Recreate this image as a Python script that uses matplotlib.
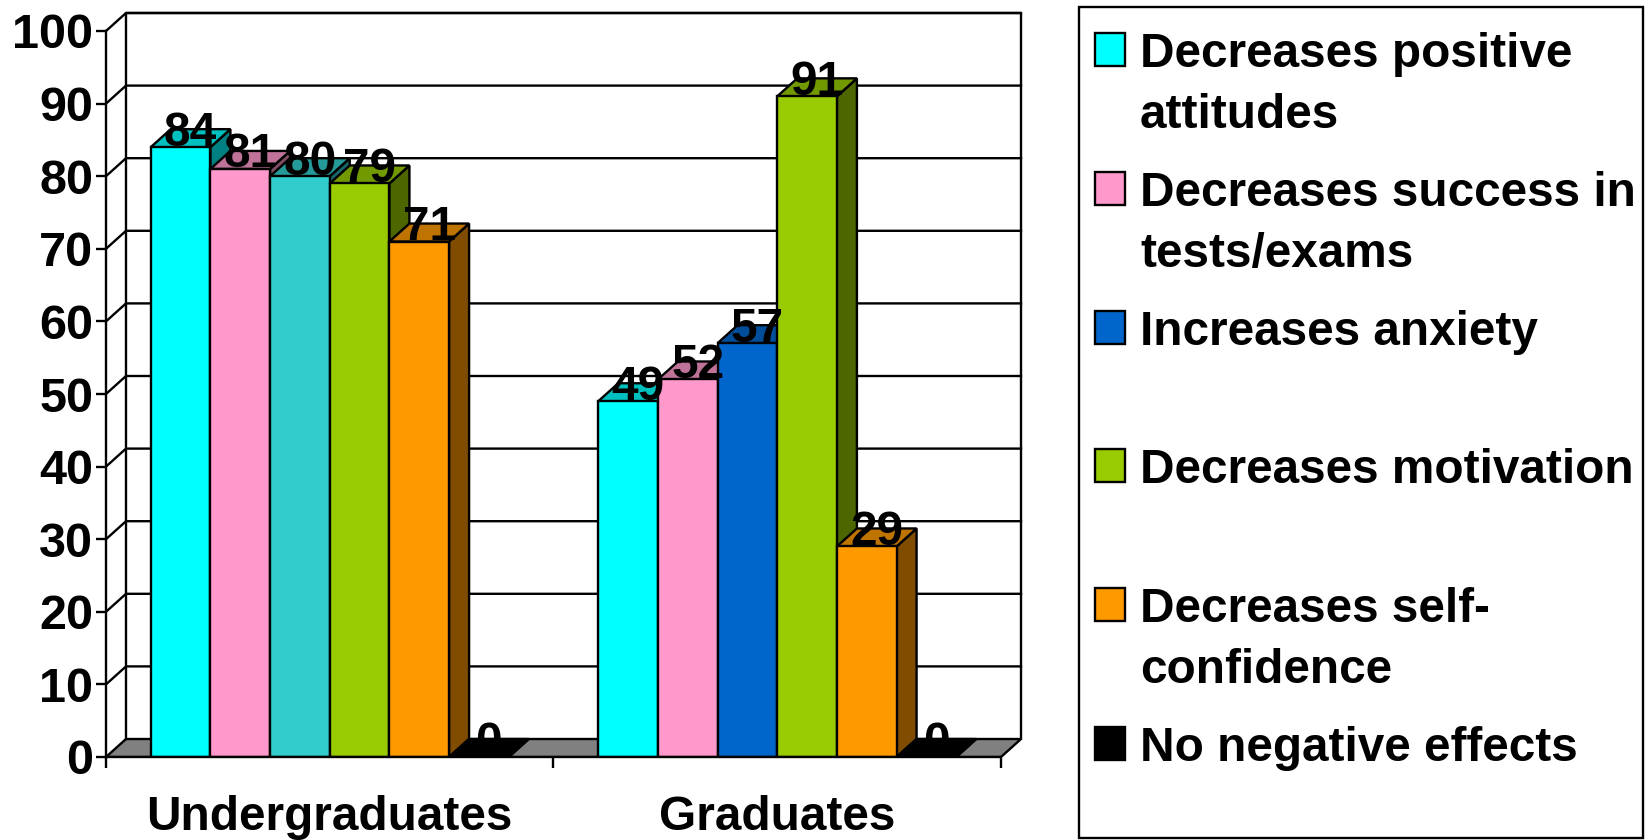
import matplotlib
matplotlib.use('Agg')
import matplotlib.pyplot as plt
from matplotlib.patches import Polygon, Rectangle

plt.rcParams['font.family'] = ['Liberation Sans', 'DejaVu Sans']
plt.rcParams['font.weight'] = 'bold'

groups = ['Undergraduates', 'Graduates']
undergrad_values = [84, 81, 80, 79, 71, 0]
grad_values = [49, 52, 57, 91, 29, 0]
undergrad_colors = ['#00FFFF', '#FF99CC', '#33CCCC', '#99CC00', '#FF9900', '#000000']
grad_colors = ['#00FFFF', '#FF99CC', '#0066CC', '#99CC00', '#FF9900', '#000000']
legend_labels = ['Decreases positive\nattitudes', 'Decreases success in\ntests/exams',
                 'Increases anxiety', 'Decreases motivation',
                 'Decreases self-\nconfidence', 'No negative effects']
legend_colors = grad_colors
y_ticks = list(range(0, 101, 10))

W, H = 1646, 840
LW = 1.7
FS = 34.4

fig = plt.figure(figsize=(W / 100, H / 100), dpi=100)
ax = fig.add_axes([106 / W, 83 / H, 915 / W, 744 / H])

# 3d offset of the box, in data units
dx = 20 / 447.5
dy = 18 / 7.26
ax.set_xlim(0, 2 + dx)
ax.set_ylim(0, 100 + dy)
ax.patch.set_visible(False)


def shade(color, f):
    r, g, b = matplotlib.colors.to_rgb(color)
    return (r * f, g * f, b * f)


# floor and walls
ax.add_patch(Polygon([(0, 0), (2, 0), (2 + dx, dy), (dx, dy)], fc='#808080', ec='black', lw=LW, zorder=1))
ax.plot([dx, dx, 2 + dx, 2 + dx], [dy, 100 + dy, 100 + dy, dy], color='black', lw=LW, zorder=1, clip_on=False)
for t in y_ticks[1:]:
    ax.plot([0, dx, 2 + dx], [t, t + dy, t + dy], color='black', lw=LW, zorder=1, clip_on=False)

# bars, left to right so the next front covers the previous side
bar_w = 0.8 / 6
z = 2
for g, (vals, cols) in enumerate([(undergrad_values, undergrad_colors), (grad_values, grad_colors)]):
    for i, (v, c) in enumerate(zip(vals, cols)):
        x0 = g + 0.1 + i * bar_w
        x1 = x0 + bar_w
        ax.add_patch(Polygon([(x1, 0), (x1 + dx, dy), (x1 + dx, v + dy), (x1, v)],
                             fc=shade(c, 0.5), ec='black', lw=LW, zorder=z))
        ax.add_patch(Polygon([(x0, v), (x1, v), (x1 + dx, v + dy), (x0 + dx, v + dy)],
                             fc=shade(c, 0.75), ec='black', lw=LW, zorder=z))
        ax.bar(x0, v, bar_w, align='edge', color=c, edgecolor='black', linewidth=LW, zorder=z)
        z += 1
for g, vals in enumerate([undergrad_values, grad_values]):
    for i, v in enumerate(vals):
        ax.text(g + 0.1 + (i + 0.5) * bar_w + dx * 0.5, v + 0.2, str(v), ha='center', va='baseline',
                fontsize=FS, fontweight='bold', color='black', zorder=50)

for side in ['top', 'right']:
    ax.spines[side].set_visible(False)
ax.spines['left'].set_bounds(0, 100)
ax.spines['bottom'].set_bounds(0, 2)
ax.spines['left'].set_linewidth(LW)
ax.spines['bottom'].set_linewidth(LW)
ax.spines['left'].set_zorder(60)
ax.spines['bottom'].set_zorder(60)

ax.set_yticks(y_ticks)
ax.set_yticklabels([str(t) for t in y_ticks])
ax.tick_params(axis='y', length=7.2, width=LW, pad=2, labelsize=35)
ax.set_xticks([0, 1, 2])
ax.set_xticklabels([])
ax.tick_params(axis='x', which='major', length=8, width=LW)
ax.set_xticks([0.5, 1.5], minor=True)
ax.set_xticklabels(groups, minor=True, fontsize=FS)
ax.tick_params(axis='x', which='minor', length=0, pad=27)

# legend box, laid out in pixels
lax = fig.add_axes([0, 0, 1, 1])
lax.set_xlim(0, W)
lax.set_ylim(H, 0)
lax.axis('off')
lax.add_patch(Rectangle((1079, 7), 564, 831, fc='white', ec='black', lw=LW))
legend_tops = [33, 172, 311, 449, 588, 727]
for label, col, top in zip(legend_labels, legend_colors, legend_tops):
    lax.add_patch(Rectangle((1095, top), 30, 33, fc=col, ec='black', lw=LW))
    for j, line in enumerate(label.split('\n')):
        lax.text(1140, top + 34 + j * 61, line, ha='left', va='baseline', fontsize=FS, fontweight='bold')

fig.savefig('out.png', dpi=100)
